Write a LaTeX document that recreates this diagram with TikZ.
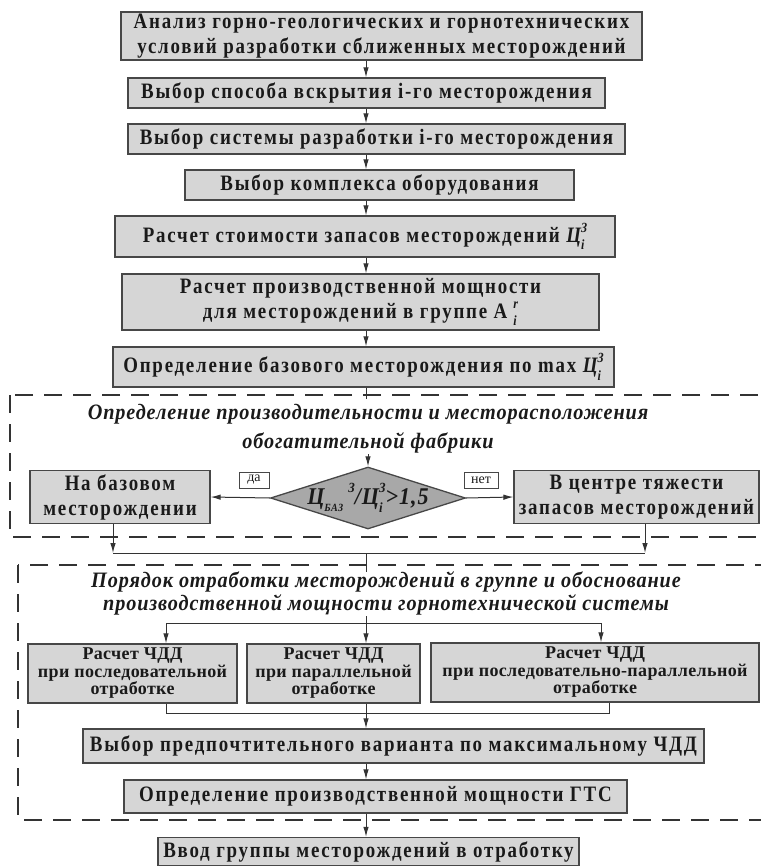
\documentclass[tikz,border=0pt]{standalone}
\usepackage{fontspec}
\setmainfont{Liberation Serif}
\newfontfamily\bxf[FakeStretch=0.86,LetterSpace=8]{Liberation Serif}
\newfontfamily\sbf[FakeStretch=1.0,LetterSpace=2]{Liberation Serif}
\newfontfamily\tlf[FakeStretch=0.92,LetterSpace=4]{Liberation Serif}
\usetikzlibrary{arrows.meta,shapes.geometric}
\definecolor{boxfill}{HTML}{D6D6D6}
\definecolor{diafill}{HTML}{A8A8A8}
\definecolor{bord}{HTML}{474747}
\definecolor{txt}{HTML}{1A1A1A}
\definecolor{lne}{HTML}{333333}
\newcommand{\ssz}{\fontsize{14}{14}\selectfont}
\newcommand{\ssb}[2]{\raisebox{-0.75ex}{\rlap{\ssz\itshape #2}}\raisebox{1.0ex}{\ssz\itshape #1}}
\begin{document}
\begin{tikzpicture}[x=1pt,y=-1pt,
  box/.style={draw=bord, fill=boxfill, line width=1.3pt, inner sep=0pt, align=center,
    text=txt, font=\bxf\bfseries\fontsize{22}{25}\selectfont},
  sbox/.style={box, font=\sbf\bfseries\fontsize{18}{17.5}\selectfont},
  ttl/.style={align=center, text=txt, inner sep=1pt, font=\tlf\bfseries\itshape\fontsize{22}{29}\selectfont},
  lbl/.style={draw=bord, fill=white, line width=0.8pt, inner sep=0pt, minimum height=16pt,
    text=txt, font=\fontsize{14}{14}\selectfont},
  arr/.style={draw=lne, line width=1pt, -{Latex[length=10pt,width=5.5pt]}},
  ln/.style={draw=lne, line width=1pt},
  dsh/.style={draw=lne, line width=1.2pt, dash pattern=on 18pt off 11pt}]
\useasboundingbox (0,0) rectangle (760,866);
\coordinate (ax) at (366,0);

% top chain
\node[box, minimum width=521pt, minimum height=48pt] (b1) at (381.5,36)
  {Анализ горно-геологических и горнотехнических\\условий разработки сближенных месторождений};
\node[box, minimum width=477pt, minimum height=30pt] (b2) at (366.5,93)
  {Выбор способа вскрытия i-го месторождения};
\node[box, minimum width=497pt, minimum height=30pt] (b3) at (376.5,139)
  {Выбор системы разработки i-го месторождения};
\node[box, minimum width=389pt, minimum height=30pt] (b4) at (379.5,185)
  {Выбор комплекса оборудования};
\node[box, minimum width=500pt, minimum height=41pt] (b5) at (365,236.5)
  {Расчет стоимости запасов месторождений {\itshape Ц}\ssb{З}{i}};
\node[box, minimum width=477pt, minimum height=56pt] (b6) at (360.5,302)
  {Расчет производственной мощности\\для месторождений в группе А\hspace{6pt}\ssb{r}{i}};
\node[box, minimum width=501pt, minimum height=40pt] (b7) at (363.5,367)
  {Определение базового месторождения по max {\itshape Ц}\ssb{З}{i}};

\foreach \a/\b in {b1/b2,b2/b3,b3/b4,b4/b5,b5/b6,b6/b7}
  \draw[arr] (\a.south -| ax) -- (\b.north -| ax);

% first dashed block
\draw[dsh] (10,395) rectangle (764,537);
\coordinate (d1) at (366,399);
\draw[ln] (b7.south -| ax) -- (d1);
\node[ttl] (t1) at (368,428.5)
  {Определение производительности и месторасположения\\обогатительной фабрики};
\node[diamond, draw=bord, fill=diafill, line width=1.3pt, inner sep=0pt,
  minimum width=195pt, minimum height=62pt] (dia) at (368,498) {};
\node[text=txt, inner sep=0pt, font=\tlf\bfseries\itshape\fontsize{24}{24}\selectfont] at (dia.center)
  {Ц\raisebox{-0.7ex}{\fontsize{11}{11}\selectfont БАЗ}\hspace{5pt}\raisebox{1.0ex}{\ssz З}/Ц\ssb{З}{i}>1,5};
\draw[arr] (t1.south -| dia.north) -- (dia.north);
\node[box, minimum width=180pt, minimum height=53pt] (L) at (120,497)
  {На базовом\\месторождении};
\node[box, minimum width=245pt, minimum height=53pt] (R) at (636.5,497)
  {В центре тяжести\\запасов месторождений};
\draw[arr] (dia.west) -- (L.east);
\draw[arr] (dia.east) -- (R.west);
\node[lbl, minimum width=30pt] (yes) at (254,480) {да};
\node[lbl, minimum width=34pt] (no) at (481,480) {нет};

\coordinate (jL) at (113,553);
\coordinate (jR) at (645,553);
\draw[arr] (L.south -| jL) -- (jL);
\draw[arr] (R.south -| jR) -- (jR);
\draw[ln] (jL) -- (jR);
\coordinate (d2) at (366,572);
\draw[ln] (ax |- jL) -- (d2);

% second dashed block
\draw[dsh] (18,565) rectangle (764,820);
\node[ttl, font=\tlf\bfseries\itshape\fontsize{22}{23}\selectfont] (t2) at (386,593.5)
  {Порядок отработки месторождений в группе и обоснование\\производственной мощности горнотехнической системы};
\coordinate (bt) at (366,623);
\coordinate (bA) at (166,623);
\coordinate (bC) at (601,623);
\node[sbox, minimum width=209pt, minimum height=59pt] (A) at (132.5,673.5)
  {Расчет ЧДД\\при последовательной\\отработке};
\node[sbox, minimum width=173pt, minimum height=59pt] (B) at (333.5,673.5)
  {Расчет ЧДД\\при параллельной\\отработке};
\node[sbox, minimum width=328pt, minimum height=59pt] (C) at (595,672.5)
  {Расчет ЧДД\\при последовательно-параллельной\\отработке};
\draw[ln] (t2.south -| ax) -- (bt);
\draw[ln] (bA) -- (bC);
\draw[arr] (bA) -- (bA |- A.north);
\draw[arr] (bt) -- (bt |- B.north);
\draw[arr] (bC) -- (bC |- C.north);
\coordinate (mA) at (166,713);
\coordinate (mt) at (366,713);
\coordinate (mC) at (609,713);
\draw[ln] (A.south -| mA) -- (mA) -- (mC) -- (C.south -| mC);
\draw[ln] (B.south -| mt) -- (mt);
\node[box, minimum width=621pt, minimum height=34pt] (b8) at (393.5,746)
  {Выбор предпочтительного варианта по максимальному ЧДД};
\node[box, minimum width=503pt, minimum height=33pt] (b9) at (375.5,796.5)
  {Определение производственной мощности ГТС};
\draw[arr] (mt) -- (b8.north -| mt);
\draw[arr] (b8.south -| ax) -- (b9.north -| ax);
\node[box, minimum width=421pt, minimum height=28pt] (b10) at (368.5,851.5)
  {Ввод группы месторождений в отработку};
\draw[arr] (b9.south -| ax) -- (b10.north -| ax);
\end{tikzpicture}
\end{document}
